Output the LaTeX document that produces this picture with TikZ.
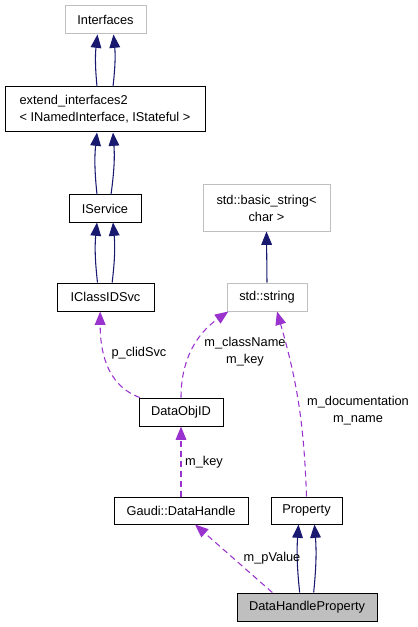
\documentclass[tikz,border=0pt]{standalone}
\usepackage{fontspec}
\setmainfont{Liberation Sans}
\usetikzlibrary{arrows.meta}
\definecolor{edgeblue}{HTML}{191970}
\definecolor{edgepurple}{HTML}{9A32CD}
\definecolor{boxgray}{HTML}{BFBFBF}
\begin{document}
\begin{tikzpicture}[x=0.75pt,y=-0.75pt,
      every node/.style={font=\fontsize{9.6}{12.75}\selectfont,inner sep=0pt},
      box/.style={draw=black,line width=0.75pt,align=center},
      extbox/.style={box,draw=boxgray},
      curbox/.style={box,fill=boxgray},
      inherit/.style={draw=edgeblue,line width=0.8pt,-{Triangle[length=10pt,width=8pt,fill=edgeblue]}},
      usage/.style={draw=edgepurple,line width=0.8pt,dash pattern=on 4.5pt off 3pt,-{Triangle[length=10pt,width=8pt,fill=edgepurple]}},
      lbl/.style={align=center}]
      \useasboundingbox (0,0) rectangle (417,627);
      \node[extbox,minimum width=60.75pt,minimum height=21pt] (ifc) at (105.5,20) {Interfaces};
      \node[box,minimum width=150pt,minimum height=33.75pt,align=left] (ext) at (105,109.5)
        {extend\_interfaces2\\< INamedInterface, IStateful >};
      \node[box,minimum width=54pt,minimum height=20.25pt] (svc) at (105,208.5) {IService};
      \node[box,minimum width=72.75pt,minimum height=21pt] (clid) at (105.5,297) {IClassIDSvc};
      \node[extbox,minimum width=95.25pt,minimum height=34.5pt] (bstr) at (266.5,208) {std::basic\_string<\\char >};
      \node[extbox,minimum width=60pt,minimum height=21pt] (str) at (267,297) {std::string};
      \node[box,minimum width=63pt,minimum height=21pt] (dobj) at (181,412) {DataObjID};
      \node[box,minimum width=100.5pt,minimum height=20.25pt] (dh) at (181,510.5) {Gaudi::DataHandle};
      \node[box,minimum width=53.25pt,minimum height=20.25pt] (prop) at (306.5,510.5) {Property};
      \node[curbox,minimum width=105pt,minimum height=21pt] (dhp) at (307,607) {DataHandleProperty};

      \draw[inherit] ([xshift=-6pt]ext.north) to[bend left=6] ([xshift=-6pt]ifc.south);
      \draw[inherit] ([xshift=6pt]ext.north) to[bend right=6] ([xshift=6pt]ifc.south);
      \draw[inherit] ([xshift=-6pt]svc.north) to[bend left=6] ([xshift=-6pt]ext.south);
      \draw[inherit] ([xshift=4.5pt]svc.north) to[bend right=6] ([xshift=6pt]ext.south);
      \draw[inherit] ([xshift=-6pt]clid.north) to[bend left=6] ([xshift=-6pt]svc.south);
      \draw[inherit] ([xshift=5pt]clid.north) to[bend right=6] ([xshift=6pt]svc.south);
      \draw[inherit] (str.north) -- (bstr.south);
      \draw[inherit] ([xshift=-5.5pt]dhp.north) to[bend left=5] ([xshift=-6pt]prop.south);
      \draw[inherit] ([xshift=5pt]dhp.north) to[bend right=5] ([xshift=6pt]prop.south);

      \draw[usage] ([xshift=1pt]dobj.north west) to[out=160,in=-90] ([xshift=-4pt]clid.south);
      \draw[usage] (dobj.north) to[out=90,in=-145] ([xshift=-29pt]str.south);
      \draw[usage] (prop.north) to[out=92,in=-74] ([xshift=7.5pt]str.south);
      \draw[usage] (dh.north) -- (dobj.south);
      \draw[usage] ([xshift=-26pt]dhp.north) -- ([xshift=10.5pt]dh.south);

      \node[lbl] (lclid) at (139,353) {p\_clidSvc};
      \node[lbl] (lname) at (245,352) {m\_className\\m\_key};
      \node[lbl] (ldoc) at (358,411) {m\_documentation\\m\_name};
      \node[lbl] (lkey) at (204,462) {m\_key};
      \node[lbl] (lval) at (272,558) {m\_pValue};
\end{tikzpicture}
\end{document}
